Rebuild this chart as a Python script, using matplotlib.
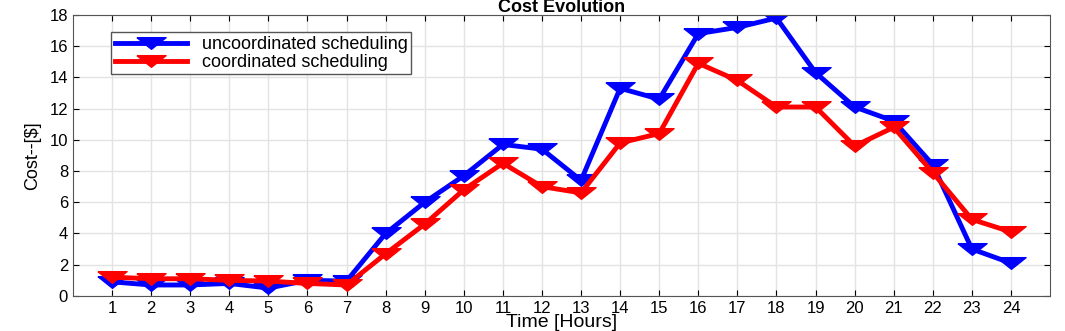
import matplotlib.pyplot as plt
import matplotlib

matplotlib.rcParams['font.family'] = ['Liberation Sans', 'DejaVu Sans']

hours = list(range(1, 25))
uncoordinated = [0.9, 0.7, 0.7, 0.8, 0.5, 1.0, 0.95, 4.0, 6.0, 7.7, 9.7, 9.4,
                 7.4, 13.3, 12.6, 16.8, 17.2, 17.8, 14.3, 12.1, 11.2, 8.4, 3.0, 2.1]
coordinated = [1.2, 1.1, 1.1, 1.0, 0.95, 0.8, 0.7, 2.7, 4.6, 6.8, 8.5, 7.0,
               6.6, 9.8, 10.4, 14.9, 13.8, 12.1, 12.1, 9.6, 10.8, 7.9, 4.9, 4.1]

# flat down-triangle (the original picture is stretched sideways)
tri = [(-1, 0.4), (1, 0.4), (0, -0.4), (-1, 0.4)]

fig = plt.figure(figsize=(10.65, 3.31), dpi=100)
ax = fig.add_axes([0.0685, 0.106, 0.9175, 0.849])

ax.plot(hours, uncoordinated, color='blue', lw=3.5, marker=tri, ms=21,
        label='uncoordinated scheduling')
ax.plot(hours, coordinated, color='red', lw=3.5, marker=tri, ms=21,
        label='coordinated scheduling')

ax.set_xlim(0, 25)
ax.set_ylim(0, 18)
ax.set_xticks(hours)
ax.set_yticks(range(0, 19, 2))
ax.grid(True, color='#e3e3e3', lw=1)
ax.tick_params(direction='in', top=True, right=True, labelsize=12, length=4)
ax.set_xlabel('Time [Hours]', fontsize=14, labelpad=-1)
ax.set_ylabel('Cost--[$]', fontsize=13, labelpad=6)
ax.set_title('Cost Evolution', fontsize=13, fontweight='bold', pad=2)
for s in ax.spines.values():
    s.set_color('#555555')

leg = ax.legend(loc='upper left', bbox_to_anchor=(0.03, 0.97), fontsize=13,
                frameon=True, fancybox=False, edgecolor='#555555',
                handlelength=4, borderpad=0.2, labelspacing=0.05,
                framealpha=1)

fig.savefig('out.png', dpi=100)
